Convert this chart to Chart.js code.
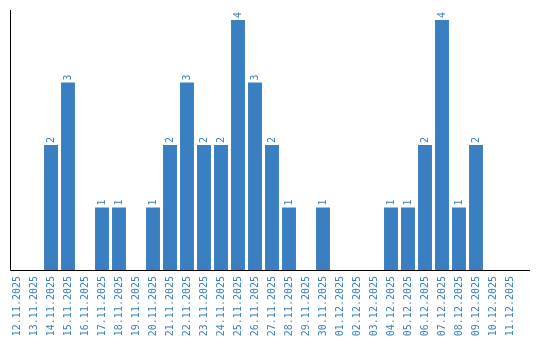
<!DOCTYPE html>
<html lang="en">
<head>
  <meta charset="UTF-8">
  <title>Daily counts</title>
  <script src="https://cdn.jsdelivr.net/npm/chart.js"></script>
  <style>
    body { margin: 0; background: #fff; }
  </style>
</head>
<body>
  <canvas id="myChart" width="540" height="340"></canvas>

  <script>
    // dates and counts
    const dates = [
      '12.11.2025', '13.11.2025', '14.11.2025', '15.11.2025', '16.11.2025',
      '17.11.2025', '18.11.2025', '19.11.2025', '20.11.2025', '21.11.2025',
      '22.11.2025', '23.11.2025', '24.11.2025', '25.11.2025', '26.11.2025',
      '27.11.2025', '28.11.2025', '29.11.2025', '30.11.2025', '01.12.2025',
      '02.12.2025', '03.12.2025', '04.12.2025', '05.12.2025', '06.12.2025',
      '07.12.2025', '08.12.2025', '09.12.2025', '10.12.2025', '11.12.2025'
    ];
    const counts = [0, 0, 2, 3, 0, 1, 1, 0, 1, 2, 3, 2, 2, 4, 3, 2, 1, 0, 1, 0, 0, 0, 1, 1, 2, 4, 1, 2, 0, 0];

    const blue = '#3a7fc1';
    const mono = 'DejaVu Sans Mono';

    // value labels above bars + the two axis lines
    const extras = {
      id: 'extras',
      afterDatasetsDraw(chart) {
        const ctx = chart.ctx;
        const meta = chart.getDatasetMeta(0);
        ctx.save();
        ctx.fillStyle = blue;
        ctx.font = '10px "' + mono + '"';
        meta.data.forEach((bar, i) => {
          if (!counts[i]) return;
          ctx.save();
          ctx.translate(bar.x, bar.y - 2);
          ctx.rotate(-Math.PI / 2);
          ctx.textAlign = 'left';
          ctx.textBaseline = 'middle';
          ctx.fillText(String(counts[i]), 0, 0);
          ctx.restore();
        });

        const area = chart.chartArea;
        ctx.strokeStyle = '#000';
        ctx.lineWidth = 1;
        ctx.beginPath();
        ctx.moveTo(10.5, area.top);
        ctx.lineTo(10.5, area.bottom + 0.5);
        ctx.lineTo(530, area.bottom + 0.5);
        ctx.stroke();
        ctx.restore();
      }
    };

    const ctx = document.getElementById('myChart').getContext('2d');
    new Chart(ctx, {
      type: 'bar',
      data: {
        labels: dates,
        datasets: [{
          data: counts,
          backgroundColor: blue,
          borderWidth: 0,
          barPercentage: 0.82,
          categoryPercentage: 1
        }]
      },
      options: {
        responsive: false,
        animation: false,
        layout: { padding: { left: 8.5, right: 21.5, top: 10, bottom: 0 } },
        plugins: {
          legend: { display: false },
          tooltip: { enabled: false }
        },
        scales: {
          x: {
            grid: { display: false },
            border: { display: false },
            ticks: {
              color: blue,
              font: { family: mono, size: 10 },
              minRotation: 90,
              maxRotation: 90,
              autoSkip: false,
              padding: -2
            },
            afterFit(scale) { scale.height = 70; }
          },
          y: {
            display: false,
            min: 0,
            max: 4.16
          }
        }
      },
      plugins: [extras]
    });
  </script>
</body>
</html>
